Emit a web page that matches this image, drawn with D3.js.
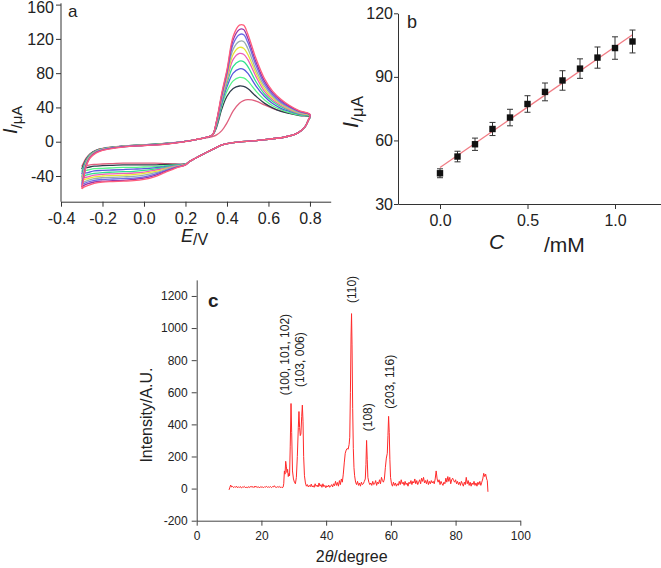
<!DOCTYPE html>
<html>
<head>
<meta charset="utf-8">
<script src="https://cdn.jsdelivr.net/npm/d3@7/dist/d3.min.js"></script>
<style>
  html, body { margin: 0; padding: 0; background: #fff; }
  svg { display: block; }
  text { font-family: "Liberation Sans", Arial, sans-serif; fill: #222; }
</style>
</head>
<body>
<svg id="chart" width="661" height="568"></svg>
<script>
// ---------------- Panel a : cyclic voltammograms ----------------
const cvUpperE = [-0.3,-0.29,-0.28,-0.26,-0.23,-0.2,-0.1,0,0.1,0.2,0.25,0.3,0.33,0.35,0.375,0.4,0.43,0.46,0.48,0.5,0.54,0.58,0.62,0.66,0.7,0.75,0.8];
const cvLowerE = [0.79,0.775,0.74,0.68,0.55,0.43,0.38,0.33,0.29,0.25,0.22,0.2,0.15,0.1,0.05,0,-0.05,-0.1,-0.15,-0.2,-0.24,-0.27,-0.29,-0.3];
const cvColors = ["#e0607e","#2f3d4c","#55f588","#5858dc","#30e08c","#ec5cba","#e6e632","#98adad","#6c6ce6","#9a34a8","#ff5e7c"];
const cvUpper = [
  [-29,-24,-19.5,-14,-9.8,-7.8,-5,-3.5,-2,0.5,2.5,4.5,6,8,13,22,36,45,48,49,47.5,43,39,36,33.5,31,29.5],
  [-32,-26,-21,-14.5,-10,-8,-5.1,-3.6,-2.1,0.5,2.5,5,7.5,17,38,53,62,65,64.5,62,53,45,39.5,35.5,33,30.5,29],
  [-35,-28,-22,-15,-10.4,-8.2,-5.2,-3.7,-2.2,0.5,2.5,5,8,19,42,59,71,75,74.5,71,59,49,42,37.5,34,31,29.5],
  [-38,-30,-23,-15.5,-10.7,-8.4,-5.3,-3.8,-2.3,0.5,2.5,5,8,20,45,64,80,85,84.5,80,65,53,44.5,39,35.5,32,30],
  [-41,-32,-24,-16,-11,-8.6,-5.4,-3.9,-2.4,0.5,2.5,5,8,21,48,68,88,94,93.5,88,70,56,47,41,36.5,32.5,30],
  [-43,-34,-25,-16.5,-11.2,-8.8,-5.5,-4,-2.5,0.5,2.5,5,8,22,50,72,96,103,102,96,76,59,49,42.5,37.5,33,30.5],
  [-46,-36,-26,-17,-11.5,-9,-5.6,-4.1,-2.6,0.4,2.5,5,8,23,52,75,102,110,109,102,80,62,51,44,38.5,33.5,30.5],
  [-48,-37,-27,-17.5,-12,-9.3,-5.7,-4.2,-2.7,0.4,2.5,5,8,23.5,53,78,108,117,117,109,84,65,53,45,39.5,34,31],
  [-50,-39,-28,-18,-12,-9.5,-5.8,-4.3,-2.8,0.3,2.5,5,8,24,54,80,114,125,125,116,89,68,55,46.5,40.5,35,31.5],
  [-53,-41,-29,-18.5,-12.5,-9.8,-6,-4.4,-2.9,0.3,2.5,5,8,24,55,82,119,131,131,121,93,71,57,48,41.5,35.5,31.5],
  [-55,-42,-30,-19,-13,-10,-6.2,-4.5,-3,0.2,2.5,5,8,25,57,84,123,136,136,126,97,74,59,49.5,42.5,36,32]
];
const cvLower = [
  [24,17,10,5.5,1.5,-1,-3.5,-9,-14,-19,-23,-26,-26,-25.5,-25,-25,-25,-25,-25.5,-26,-26.5,-27.5,-28.5,-29],
  [24,17,10,5.5,1.5,-1,-3.5,-9,-14,-19,-23,-26,-26.5,-26.5,-27,-27,-27,-27,-27.5,-28,-28.5,-30,-31,-32],
  [24,17,10,5.5,1.5,-1,-3.5,-9,-14,-19,-23,-26,-27,-28,-29,-29.5,-30,-30,-30.5,-31,-31.5,-33,-34,-35],
  [24,17,10,5.5,1.5,-1,-3.5,-9,-14,-19,-23,-26,-27.5,-29,-30.5,-31.5,-32,-32.5,-33,-33.5,-34,-36,-37,-38],
  [24,17,10,5.5,1.5,-1,-3.5,-9,-14,-19,-23,-26,-28,-30,-32,-33.5,-34.5,-35,-35.5,-36,-37,-38.5,-40,-41],
  [24,17,10,5.5,1.5,-1,-3.5,-9,-14,-19,-23,-26.5,-28.5,-31,-33.5,-35.5,-36.5,-37,-37.5,-38,-39,-41,-42,-43],
  [24,17,10,5.5,1.5,-1,-3.5,-9,-14,-19,-23,-26.5,-29,-32,-35,-37,-38.5,-39,-39.5,-40,-41,-43,-44.5,-46],
  [24,17,10,5.5,1.5,-1,-3.5,-9,-14,-19,-23,-26.5,-29.5,-33,-36.5,-39,-40.5,-41,-41.5,-42,-43,-45,-47,-48],
  [24,17,10,5.5,1.5,-1,-3.5,-9,-14,-19,-23,-27,-30,-34,-38,-41,-42.5,-43,-43.5,-44,-45,-47,-49,-50],
  [24,17,10,5.5,1.5,-1,-3.5,-9,-14,-19,-23,-27,-30.5,-35,-39.5,-42.5,-44,-45,-45.5,-46,-47,-49,-51,-53],
  [24,17,10,5.5,1.5,-1,-3.5,-9,-14,-19,-23,-27,-31,-36,-41,-44,-45.5,-46,-46.5,-47,-48.5,-51,-53,-55]
];
const aXTicks = [-0.4,-0.2,0.0,0.2,0.4,0.6,0.8];
const aXMinor = [-0.3,-0.1,0.1,0.3,0.5,0.7,0.9];
const aYTicks = [-40,0,40,80,120,160];
const aYMinor = [-60,-20,20,60,100,140];

// ---------------- Panel b : calibration ----------------
const concC = [0,0.1,0.2,0.3,0.4,0.5,0.6,0.7,0.8,0.9,1.0,1.1];
const currentI = [44.5,52.4,58.2,65.4,70.8,77.2,82.9,88.3,93.9,99.1,103.6,106.7];
const currentErr = [2.1,2.5,2.9,3.1,3.9,3.9,4.2,4.6,4.6,5.0,5.3,5.4];
const fitC = [0,1.1];
const fitI = [47.2,109.9];
const bXTicks = [0.0,0.5,1.0];
const bXMinor = [0.25,0.75,1.25];
const bYTicks = [30,60,90,120];
const bYMinor = [45,75,105];

// ---------------- Panel c : XRD ----------------
const xrdPattern = [
 [10.0,-8],[10.2,5],[10.5,22],[10.8,10],[11.1,14],[11.4,6],[11.7,12],[12.0,8],[12.3,15],[12.6,5],[12.9,11],[13.2,7],[13.5,13],[13.8,4],[14.1,10],[14.4,8],[14.7,14],[15.0,6],[15.3,9],[15.6,5],[15.9,12],[16.2,7],[16.5,10],[16.8,14],[17.1,8],[17.4,13],[17.7,6],[18.0,16],[18.3,9],[18.6,12],[18.9,7],[19.2,11],[19.5,5],[19.8,13],[20.1,8],[20.4,10],[20.7,6],[21.0,12],[21.3,9],[21.6,14],[21.9,7],[22.2,11],[22.5,8],[22.8,13],[23.1,6],[23.4,12],[23.7,10],[24.0,18],[24.3,9],[24.6,7],[24.9,12],[25.2,8],[25.5,14],[25.8,6],[26.1,11],[26.4,5],[26.7,9],
 [26.9,30],[27.1,110],[27.3,90],[27.5,170],[27.7,140],[27.9,100],[28.1,120],[28.3,75],[28.5,95],[28.7,80],[28.9,260],[29.15,530],[29.35,350],[29.6,110],[29.9,60],[30.2,40],[30.5,30],[30.8,70],[31.1,200],[31.4,380],[31.6,480],[31.8,380],[32.0,330],[32.2,340],[32.45,450],[32.65,520],[32.85,420],[33.05,200],[33.3,80],[33.6,35],[33.9,15],
 [34.2,25],[34.5,10],[34.8,20],[35.1,12],[35.4,28],[35.7,10],[36.0,18],[36.3,8],[36.6,30],[36.9,14],[37.2,22],[37.5,10],[37.8,35],[38.1,15],[38.4,25],[38.7,8],[39.0,30],[39.3,12],[39.6,20],[39.9,5],[40.2,18],[40.5,10],[40.8,22],[41.1,8],[41.4,15],[41.7,25],[42.0,10],[42.3,30],[42.6,18],[42.9,45],[43.2,20],[43.5,38],[43.8,15],[44.1,50],[44.4,25],[44.7,60],
 [45.0,40],[45.3,90],[45.6,160],[45.9,220],[46.2,240],[46.5,250],[46.8,245],[47.1,275],[47.3,320],[47.5,600],[47.7,950],[47.85,1090],[48.0,900],[48.2,500],[48.4,250],[48.6,130],[48.8,80],[49.1,40],[49.4,25],[49.7,45],[50.0,20],[50.3,35],[50.6,15],[50.9,40],[51.2,25],[51.5,30],[51.8,45],[52.1,60],[52.3,150],[52.5,300],[52.7,180],[52.9,70],[53.2,40],[53.5,25],[53.8,35],[54.1,20],[54.4,45],[54.7,25],[55.0,30],[55.3,50],[55.6,20],[55.9,40],[56.2,30],[56.5,55],[56.8,30],[57.1,70],[57.4,50],[57.7,40],[58.0,60],[58.3,130],[58.6,190],[58.9,220],[59.1,330],[59.3,450],[59.5,350],[59.7,180],[59.9,70],[60.2,30],[60.5,15],
 [60.8,40],[61.1,20],[61.4,35],[61.7,15],[62.0,30],[62.3,20],[62.6,45],[62.9,25],[63.2,55],[63.5,30],[63.8,40],[64.1,20],[64.4,45],[64.7,25],[65.0,35],[65.3,15],[65.6,40],[65.9,30],[66.2,50],[66.5,25],[66.8,45],[67.1,35],[67.4,60],[67.7,30],[68.0,50],[68.3,25],[68.6,40],[68.9,55],[69.2,30],[69.5,65],[69.8,45],[70.1,70],[70.4,35],[70.7,50],[71.0,30],[71.3,55],[71.6,25],[71.9,45],[72.2,30],[72.5,50],[72.8,35],[73.1,45],[73.4,30],[73.7,60],[74.0,110],[74.3,60],[74.6,40],[74.9,55],[75.2,25],[75.5,45],[75.8,30],[76.1,20],[76.4,40],[76.7,30],[77.0,65],[77.3,40],[77.6,75],[77.9,45],[78.2,70],[78.5,30],[78.8,55],[79.1,65],[79.4,50],[79.7,40],[80.0,55],[80.3,30],[80.6,45],[80.9,25],[81.2,40],[81.5,20],[81.8,45],[82.1,30],[82.4,15],[82.7,40],[83.0,25],[83.3,70],[83.6,30],[83.9,50],[84.2,20],[84.5,40],[84.8,15],[85.1,35],[85.4,25],[85.7,45],[86.0,20],[86.3,35],[86.6,15],[86.9,40],[87.2,25],[87.5,45],[87.8,20],[88.1,40],[88.4,60],[88.7,95],[89.0,75],[89.3,90],[89.6,60],[89.8,50],[90.0,-20]
];
const peakLabels = ["(100, 101, 102)","(103, 006)","(110)","(108)","(203, 116)"];
const peakLabelAngle = [27.3,31.9,47.9,53.0,59.75];
const peakLabelBase = [581,633,1156,357,498];
const cXTicks = [0,20,40,60,80,100];
const cXMinor = [10,30,50,70,90];
const cYTicks = [-200,0,200,400,600,800,1000,1200];
const cYMinor = [-100,100,300,500,700,900,1100,1300];

// ================= drawing =================
const svg = d3.select("#chart");
svg.append("rect").attr("width",661).attr("height",568).attr("fill","#fff");

function styleAxis(g, color, fs) {
  g.select(".domain").attr("stroke", color).attr("stroke-width", 1);
  g.selectAll(".tick line").attr("stroke", color).attr("stroke-width", 1);
  g.selectAll(".tick text").attr("fill", "#222").style("font-size", fs + "px")
    .style("font-family", "'Liberation Sans', Arial, sans-serif");
}

// ----- Panel a -----
{
  const x = d3.scaleLinear().domain([-0.4, 0.9]).range([61, 330.7]);
  const y = d3.scaleLinear().domain([-70, 160]).range([201.7, 4.6]);
  const gx = svg.append("g").attr("transform", "translate(0,201.7)");
  gx.call(d3.axisBottom(x).tickValues(aXMinor).tickSize(3).tickFormat("").tickSizeOuter(0));
  gx.call(d3.axisBottom(x).tickValues(aXTicks).tickSize(5).tickPadding(6).tickSizeOuter(0)
     .tickFormat(d => d3.format(".1f")(d).replace("−","-")));
  styleAxis(gx, "#333", 16);
  const gy = svg.append("g").attr("transform", "translate(61,0)");
  gy.call(d3.axisLeft(y).tickValues(aYMinor).tickSize(3).tickFormat("").tickSizeOuter(0));
  gy.call(d3.axisLeft(y).tickValues(aYTicks).tickSize(5).tickPadding(2).tickSizeOuter(0)
     .tickFormat(d => String(d)));
  styleAxis(gy, "#333", 16);
  gy.select(".domain").attr("d", `M0,${y(-70)}V3.3`);
  gy.selectAll(".tick text").filter(d => d === 160).attr("dy", "0.5em");

  const line = d3.line().x(d => x(d[0])).y(d => y(d[1])).curve(d3.curveCatmullRom.alpha(0.5));
  cvUpper.forEach((up, k) => {
    const pts = cvUpperE.map((e, i) => [e, up[i]]).concat(cvLowerE.map((e, i) => [e, cvLower[k][i]]));
    svg.append("path").attr("d", line(pts)).attr("fill", "none")
      .attr("stroke", cvColors[k]).attr("stroke-width", 1.3).attr("stroke-linejoin", "round");
  });

  svg.append("text").attr("x", 68).attr("y", 17).style("font-size", "17px").text("a");
  const yl = svg.append("text").attr("transform", "translate(17,134) rotate(-90)");
  yl.append("tspan").style("font-style", "italic").style("font-size", "20px").text("I");
  yl.append("tspan").attr("dy", 5).style("font-size", "15px").text("/μA");
  const xl = svg.append("text").attr("x", 181).attr("y", 242);
  xl.append("tspan").style("font-style", "italic").style("font-size", "18px").text("E");
  xl.append("tspan").attr("dy", 3).style("font-size", "16px").text("/V");
}

// ----- Panel b -----
{
  const x = d3.scaleLinear().domain([-0.24, 1.26]).range([398, 660.5]);
  const y = d3.scaleLinear().domain([30, 120]).range([204, 13.3]);
  const gx = svg.append("g").attr("transform", "translate(0,204)");
  gx.call(d3.axisBottom(x).tickValues(bXMinor).tickSize(3).tickFormat("").tickSizeOuter(0));
  gx.call(d3.axisBottom(x).tickValues(bXTicks).tickSize(5).tickPadding(6).tickSizeOuter(0)
     .tickFormat(d3.format(".1f")));
  styleAxis(gx, "#333", 16);
  const gy = svg.append("g").attr("transform", "translate(398,0)");
  gy.call(d3.axisLeft(y).tickValues(bYMinor).tickSize(3).tickFormat("").tickSizeOuter(0));
  gy.call(d3.axisLeft(y).tickValues(bYTicks).tickSize(4).tickPadding(1).tickSizeOuter(0)
     .tickFormat(d => String(d)));
  styleAxis(gy, "#333", 16);

  svg.append("path")
    .attr("d", d3.line().x(d => x(d[0])).y(d => y(d[1]))(fitC.map((c, i) => [c, fitI[i]])))
    .attr("stroke", "#f07c84").attr("stroke-width", 1.3).attr("fill", "none");

  const eb = svg.append("g").attr("stroke", "#333").attr("stroke-width", 1);
  concC.forEach((c, i) => {
    const cx = x(c), y1 = y(currentI[i] - currentErr[i]), y2 = y(currentI[i] + currentErr[i]);
    eb.append("line").attr("x1", cx).attr("x2", cx).attr("y1", y1).attr("y2", y2);
    eb.append("line").attr("x1", cx - 3).attr("x2", cx + 3).attr("y1", y1).attr("y2", y1);
    eb.append("line").attr("x1", cx - 3).attr("x2", cx + 3).attr("y1", y2).attr("y2", y2);
  });
  svg.append("g").selectAll("rect").data(concC).join("rect")
    .attr("x", (c) => x(c) - 3.2).attr("y", (c, i) => y(currentI[i]) - 3.2)
    .attr("width", 6.4).attr("height", 6.4).attr("fill", "#111");

  svg.append("text").attr("x", 407).attr("y", 28).style("font-size", "18px").text("b");
  const yl = svg.append("text").attr("transform", "translate(358,128) rotate(-90)");
  yl.append("tspan").style("font-style", "italic").style("font-size", "22px").text("I");
  yl.append("tspan").attr("dy", 5).style("font-size", "17px").text("/μA");
  svg.append("text").attr("x", 489).attr("y", 249).style("font-style", "italic").style("font-size", "21px").text("C");
  svg.append("text").attr("x", 544).attr("y", 252).style("font-size", "21px").text("/mM");
}

// ----- Panel c -----
{
  const x = d3.scaleLinear().domain([0, 100]).range([196.7, 520.3]);
  const y = d3.scaleLinear().domain([-200, 1300]).range([520.7, 279.9]);
  const gx = svg.append("g").attr("transform", "translate(0,520.7)");
  gx.call(d3.axisBottom(x).tickValues(cXMinor).tickSize(3).tickFormat("").tickSizeOuter(0));
  gx.call(d3.axisBottom(x).tickValues(cXTicks).tickSize(5).tickPadding(6).tickSizeOuter(0)
     .tickFormat(d => String(d)));
  styleAxis(gx, "#444", 12);
  const gy = svg.append("g").attr("transform", "translate(196.7,0)");
  gy.call(d3.axisLeft(y).tickValues(cYMinor).tickSize(3).tickFormat("").tickSizeOuter(0));
  gy.call(d3.axisLeft(y).tickValues(cYTicks).tickSize(5).tickPadding(4).tickSizeOuter(0)
     .tickFormat(d => String(d)));
  styleAxis(gy, "#444", 12);

  svg.append("path")
    .attr("d", d3.line().x(d => x(d[0])).y(d => y(d[1]))(xrdPattern))
    .attr("stroke", "#ff2a2a").attr("stroke-width", 1).attr("fill", "none").attr("stroke-linejoin", "round");

  peakLabels.forEach((t, i) => {
    svg.append("text")
      .attr("transform", `translate(${x(peakLabelAngle[i]) + 4},${y(peakLabelBase[i])}) rotate(-90)`)
      .style("font-size", "12px").text(t);
  });

  svg.append("text").attr("x", 208).attr("y", 307).style("font-size", "19px").style("font-weight", "bold").text("c");
  svg.append("text").attr("transform", "translate(152,415) rotate(-90)")
    .attr("text-anchor", "middle").style("font-size", "16px").text("Intensity/A.U.");
  const xl = svg.append("text").attr("x", 351.7).attr("y", 561.5).attr("text-anchor", "middle").style("font-size", "16px");
  xl.append("tspan").text("2");
  xl.append("tspan").style("font-style", "italic").text("θ");
  xl.append("tspan").text("/degree");
}
</script>
</body>
</html>
